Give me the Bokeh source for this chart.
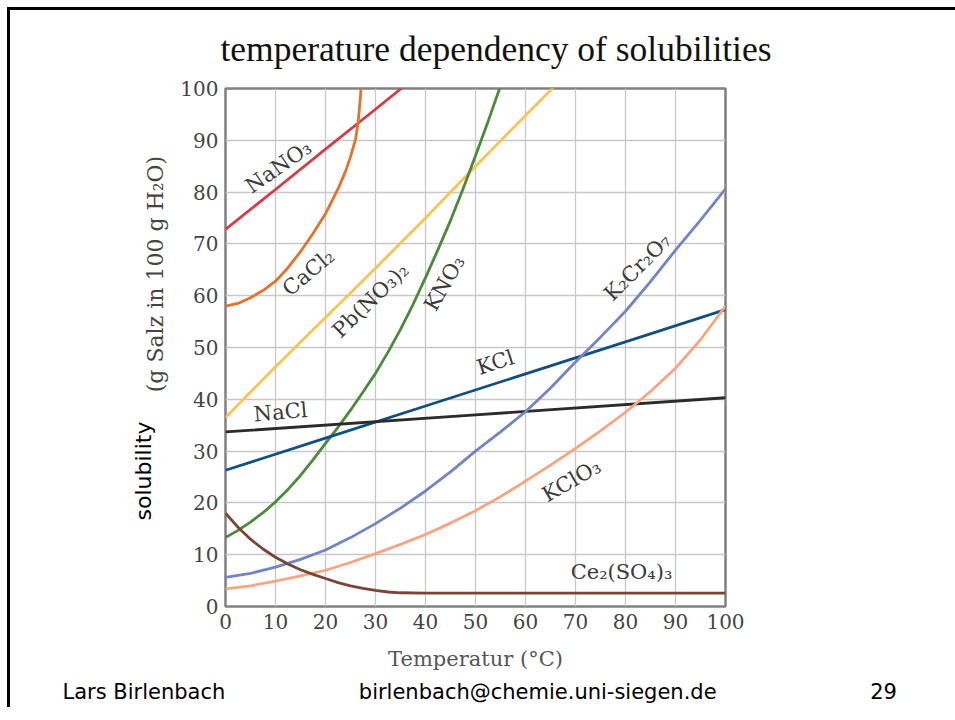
from bokeh.plotting import figure
from bokeh.models import Range1d, FixedTicker, Label, Title
from bokeh.embed import file_html
from bokeh.resources import INLINE

# ---------------- data ----------------
T_nano3 = [0, 10, 20, 30, 40]
S_nano3 = [72.8, 80.5, 88.3, 96.0, 103.8]

T_cacl2 = [0, 2.5, 5, 7.5, 10, 12.5, 15, 17.5, 20, 22.5, 24, 25, 26, 26.5, 27, 27.3]
S_cacl2 = [58.0, 58.5, 59.6, 61.0, 62.8, 65.4, 68.5, 72.0, 75.8, 80.6, 84.0, 86.8, 90.2,
           93.2, 98.5, 104.0]

T_pbno3 = [0, 10, 20, 30, 40, 50, 60, 70]
S_pbno3 = [36.5, 46.3, 55.8, 65.3, 75.0, 85.0, 94.8, 104.5]

T_kno3 = [0, 2.5, 5, 7.5, 10, 12.5, 15, 17.5, 20, 22.5, 25, 27.5, 30, 32.5, 35, 37.5,
          40, 42.5, 45, 47.5, 50, 52.5, 55, 57]
S_kno3 = [13.3, 14.7, 16.3, 18.1, 20.2, 22.6, 25.3, 28.3, 31.5, 34.6, 37.9, 41.4, 45.0,
          49.1, 53.5, 58.3, 63.5, 68.9, 74.5, 80.6, 87.0, 93.6, 100.5, 106.0]

T_kcl = [0, 20, 40, 60, 80, 100]
S_kcl = [26.3, 32.5, 38.7, 44.9, 51.1, 57.3]

T_nacl = [0, 50, 100]
S_nacl = [33.7, 37.0, 40.3]

T_k2cr2o7 = [0, 5, 10, 15, 20, 25, 30, 35, 40, 45, 50, 55, 60, 65, 70, 75, 80, 85, 90, 95, 100]
S_k2cr2o7 = [5.6, 6.4, 7.6, 9.1, 10.9, 13.3, 16.0, 19.0, 22.3, 26.0, 30.0, 33.7, 37.6,
             42.2, 47.2, 52.0, 57.0, 62.7, 68.8, 74.6, 80.6]

T_kclo3 = [0, 5, 10, 15, 20, 25, 30, 35, 40, 45, 50, 55, 60, 65, 70, 75, 80, 85, 90, 95, 100]
S_kclo3 = [3.4, 4.0, 4.9, 5.9, 7.0, 8.5, 10.2, 12.0, 13.9, 16.1, 18.5, 21.2, 24.2,
           27.3, 30.5, 33.9, 37.5, 41.5, 46.0, 51.5, 58.0]

T_ce2so43 = [0, 2.5, 5, 7.5, 10, 12.5, 15, 17.5, 20, 22.5, 25, 27.5, 30, 32.5, 35, 40, 100]
S_ce2so43 = [18.0, 15.3, 13.0, 11.1, 9.5, 8.2, 7.1, 6.2, 5.4, 4.6, 4.0, 3.5, 3.1, 2.8,
             2.65, 2.6, 2.6]

x_ticks = [0, 10, 20, 30, 40, 50, 60, 70, 80, 90, 100]
y_ticks = [0, 10, 20, 30, 40, 50, 60, 70, 80, 90, 100]

series = [
    ("NaNO₃", T_nano3, S_nano3, "#d83a45"),
    ("CaCl₂", T_cacl2, S_cacl2, "#e8702b"),
    ("Pb(NO₃)₂", T_pbno3, S_pbno3, "#fcc353"),
    ("KNO₃", T_kno3, S_kno3, "#4a8a3a"),
    ("KCl", T_kcl, S_kcl, "#0f5083"),
    ("NaCl", T_nacl, S_nacl, "#2b2b2b"),
    ("K₂Cr₂O₇", T_k2cr2o7, S_k2cr2o7, "#7284c8"),
    ("KClO₃", T_kclo3, S_kclo3, "#f8a57f"),
    ("Ce₂(SO₄)₃", T_ce2so43, S_ce2so43, "#7b4535"),
]

# curve label placement (data coords) and angle in degrees
label_pos = {
    "NaNO₃": (10.6, 84.9, 35),
    "CaCl₂": (16.6, 64.5, 40),
    "Pb(NO₃)₂": (29.0, 59.1, 44),
    "KNO₃": (43.8, 62.4, 60),
    "KCl": (54.0, 47.1, 18),
    "NaCl": (11.0, 37.5, 5),
    "K₂Cr₂O₇": (82.4, 65.5, 45),
    "KClO₃": (69.2, 24.3, 30),
    "Ce₂(SO₄)₃": (79.2, 6.6, 0),
}

TITLE = "temperature dependency of solubilities"
X_LABEL = "Temperatur (°C)"
Y_LABEL = "(g Salz in 100 g H₂O)"
SIDE_LABEL = "solubility"
FOOT_NAME = "Lars Birlenbach"
FOOT_MAIL = "birlenbach@chemie.uni-siegen.de"
FOOT_PAGE = "29"

SERIF = "DejaVu Serif"
NB = "\u00a0"

p = figure(
    width=955, height=704,
    frame_width=500, frame_height=518,
    min_border_left=225, min_border_right=230,
    min_border_top=88, min_border_bottom=98,
    x_range=Range1d(0, 100), y_range=Range1d(0, 100),
    output_backend="svg", toolbar_location=None,
)
# slide frame: black strip 7..10 px inside the top and left edges
p.styles = {"box-shadow": "inset 7px 7px 0px 0px white, inset 10px 10px 0px 0px black"}
p.background_fill_color = "white"
p.border_fill_color = None
p.outline_line_color = "#808080"
p.outline_line_width = 2.5

# main title
p.title.text = TITLE
p.title.align = "left"
p.title.offset = -5
p.title.standoff = 40
p.title.text_font = "Liberation Serif"
p.title.text_font_size = "35.5px"
p.title.text_font_style = "normal"
p.title.text_color = "#111111"

for ax in (p.xaxis[0], p.yaxis[0]):
    ax.axis_line_color = None
    ax.major_tick_line_color = None
    ax.minor_tick_line_color = None
    ax.major_tick_in = 0
    ax.major_tick_out = 0
    ax.minor_tick_out = 0
    ax.major_label_text_font = SERIF
    ax.major_label_text_font_size = "20px"
    ax.major_label_text_color = "#444444"
    ax.major_label_standoff = 7
    ax.axis_label_text_font = SERIF
    ax.axis_label_text_font_style = "normal"
    ax.axis_label_standoff = 10

p.xaxis[0].ticker = FixedTicker(ticks=x_ticks)
p.yaxis[0].ticker = FixedTicker(ticks=y_ticks)
p.xaxis[0].axis_label = X_LABEL
p.xaxis[0].axis_label_standoff = 15
p.xaxis[0].axis_label_text_font_size = "21px"
p.xaxis[0].axis_label_text_color = "#555555"
p.yaxis[0].axis_label = NB * 21 + Y_LABEL
p.yaxis[0].axis_label_text_font_size = "22px"
p.yaxis[0].axis_label_standoff = 9
p.yaxis[0].axis_label_text_color = "#444444"

p.xgrid.grid_line_color = "#c8c8c8"
p.ygrid.grid_line_color = "#c8c8c8"
p.xgrid.grid_line_width = 1.3
p.ygrid.grid_line_width = 1.3
p.xgrid.ticker = FixedTicker(ticks=x_ticks)
p.ygrid.ticker = FixedTicker(ticks=y_ticks)

for name, xs, ys, col in series:
    p.line(xs, ys, line_color=col, line_width=2.8)

for name, xs, ys, col in series:
    lx, ly, ang = label_pos[name]
    p.add_layout(Label(x=lx, y=ly, text=name, angle=ang, angle_units="deg",
                       text_align="center", text_baseline="middle",
                       text_font=SERIF, text_font_size="21px", text_color="#3a3a3a"))

# "solubility" side title
t_side = Title(text=SIDE_LABEL, align="left", offset=86,
               text_font="DejaVu Sans", text_font_size="22px",
               text_font_style="normal", text_color="#000000")
try:
    t_side.standoff = -30
except Exception:
    t_side.standoff = 0
p.add_layout(t_side, "left")

# footer
footer = FOOT_NAME + NB * 20 + FOOT_MAIL + NB * 23 + FOOT_PAGE
t_foot = Title(text=footer, align="left", offset=-163, standoff=8,
               text_font="DejaVu Sans", text_font_size="21px",
               text_font_style="normal", text_color="#000000")
p.add_layout(t_foot, "below")

open("out.html", "w").write(file_html(p, INLINE))
